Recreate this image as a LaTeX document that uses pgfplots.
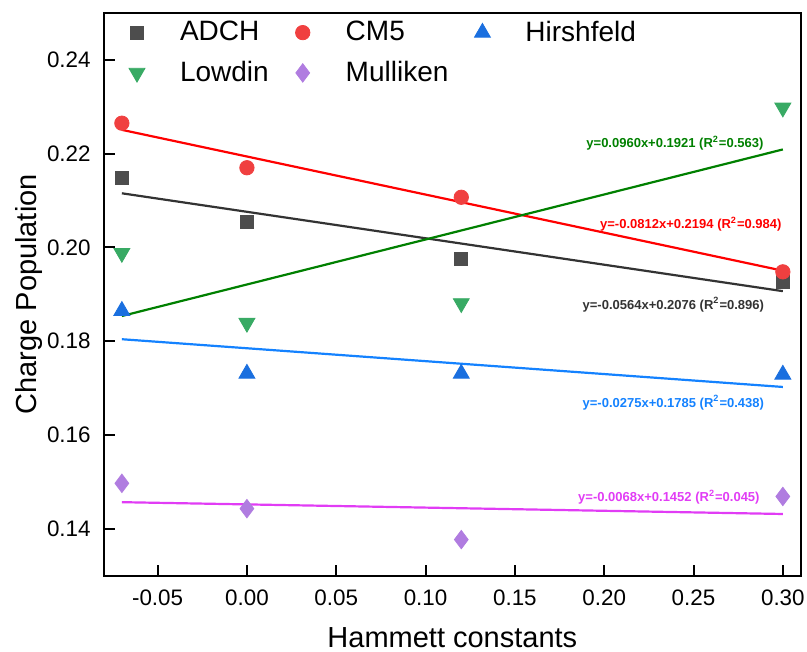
\documentclass[border=0pt]{standalone}
\usepackage{fontspec}
\setmainfont{Liberation Sans}
\usepackage{pgfplots}
\pgfplotsset{compat=1.18}

\definecolor{adchM}{RGB}{77,77,77}
\definecolor{adchL}{RGB}{51,51,51}
\definecolor{cmM}{RGB}{240,64,64}
\definecolor{cmL}{RGB}{255,0,0}
\definecolor{hirM}{RGB}{26,111,223}
\definecolor{hirL}{RGB}{20,130,255}
\definecolor{lowM}{RGB}{56,170,100}
\definecolor{lowL}{RGB}{0,128,0}
\definecolor{mulM}{RGB}{176,124,224}
\definecolor{mulL}{RGB}{225,60,245}

\begin{document}
\begin{tikzpicture}
\useasboundingbox (-52pt,-38.15pt) rectangle (351.5pt,287.85pt);
\begin{axis}[
  scale only axis,
  width=348.35pt, height=281.35pt,
  xmin=-0.08, xmax=0.31, ymin=0.13, ymax=0.25,
  xtick={-0.05,0,0.05,0.1,0.15,0.2,0.25,0.3},
  ytick={0.14,0.16,0.18,0.2,0.22,0.24},
  /pgf/number format/assume math mode=true,
  /pgf/number format/fixed,
  /pgf/number format/fixed zerofill,
  /pgf/number format/precision=2,
  tick align=inside, tick pos=left,
  major tick length=5.3pt,
  tick style={black, line width=1pt},
  axis line style={line width=1pt},
  tick label style={font=\fontsize{11.2}{13.4}\selectfont, inner sep=0pt},
  xticklabel style={anchor=center, yshift=-11.15pt},
  yticklabel style={anchor=east, xshift=-6.5pt},
  label style={font=\fontsize{14.5}{17.4}\selectfont, inner sep=0pt},
  xlabel={Hammett constants},
  ylabel={Charge Population},
  xlabel style={at={(axis description cs:0.5,-0.1100)}, anchor=center},
  ylabel style={at={(axis description cs:-0.1077,0.5)}, anchor=center},
  legend columns=3,
  legend cell align=left,
  legend style={
    at={(axis description cs:0,1)}, anchor=north west,
    xshift=9.5pt, yshift=-4pt,
    draw=none, fill=none, inner sep=0pt, outer sep=0pt,
    font=\fontsize{14}{16.8}\selectfont,
    nodes={inner sep=0pt, outer sep=0pt},
    row sep=8.5pt,
    /tikz/every odd column/.append style={column sep=14.5pt},
    /tikz/every even column/.append style={column sep=10pt},
  },
  legend image code/.code={
    \path[draw=none, fill=none] (-7pt,-3pt) rectangle (7pt,3pt);
    \draw[#1] plot coordinates {(0pt,0pt)};
  },
]
% linear fits
\addplot[adchL, line width=1.1pt, forget plot] coordinates {(-0.07,0.21155) (0.30,0.19068)};
\addplot[cmL, line width=1.1pt, forget plot] coordinates {(-0.07,0.22508) (0.30,0.19504)};
\addplot[lowL, line width=1.1pt, forget plot] coordinates {(-0.07,0.18538) (0.30,0.22090)};
\addplot[hirL, line width=1.1pt, forget plot] coordinates {(-0.07,0.18043) (0.30,0.17025)};
\addplot[mulL, line width=1.1pt, forget plot] coordinates {(-0.07,0.14568) (0.30,0.14316)};

% data
\addplot[only marks, mark=square*, mark size=3.3pt, adchM]
  coordinates {(-0.07,0.2148) (0.00,0.2055) (0.12,0.1976) (0.30,0.1927)};
\addlegendentry{ADCH}
\addplot[only marks, mark=*, mark size=3.6pt, cmM]
  coordinates {(-0.07,0.2265) (0.00,0.2170) (0.12,0.2107) (0.30,0.1948)};
\addlegendentry{CM5}
\addplot[only marks, mark=triangle*, mark size=4.6pt, hirM]
  coordinates {(-0.07,0.1865) (0.00,0.1731) (0.12,0.1731) (0.30,0.1729)};
\addlegendentry{Hirshfeld}
\addplot[only marks, mark=triangle*, mark size=4.6pt, mark options={rotate=180}, lowM]
  coordinates {(-0.07,0.1988) (0.00,0.1839) (0.12,0.1881) (0.30,0.2298)};
\addlegendentry{Lowdin}
\addplot[only marks, mark=diamond*, mark size=4.6pt, mulM]
  coordinates {(-0.07,0.1497) (0.00,0.1443) (0.12,0.1377) (0.30,0.1469)};
\addlegendentry{Mulliken}

% fit equations
\begin{scope}[every node/.style={font=\bfseries\fontsize{6.5}{7.8}\selectfont, inner sep=0pt}]
\node[text=lowL] at (axis cs:0.2396,0.2223) {y=0.0960x+0.1921 (R\textsuperscript{2}=0.563)};
\node[text=cmL] at (axis cs:0.2485,0.2050) {y=-0.0812x+0.2194 (R\textsuperscript{2}=0.984)};
\node[text=adchL] at (axis cs:0.2387,0.1878) {y=-0.0564x+0.2076 (R\textsuperscript{2}=0.896)};
\node[text=hirL] at (axis cs:0.2387,0.1669) {y=-0.0275x+0.1785 (R\textsuperscript{2}=0.438)};
\node[text=mulL] at (axis cs:0.2362,0.1468) {y=-0.0068x+0.1452 (R\textsuperscript{2}=0.045)};
\end{scope}
\end{axis}
\end{tikzpicture}
\end{document}
